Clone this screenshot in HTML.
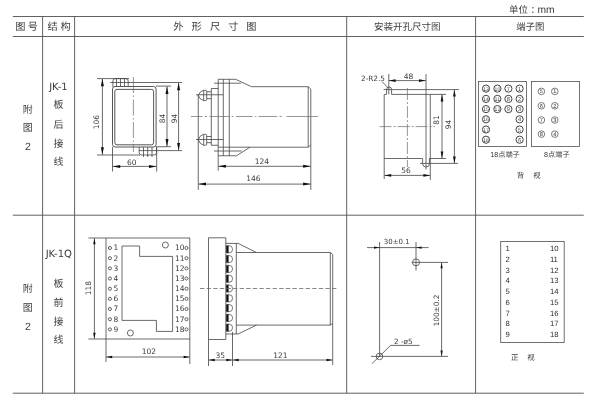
<!DOCTYPE html>
<html lang="zh-CN"><head><meta charset="utf-8"><title>JK-1 外形尺寸图</title>
<style>
html,body{margin:0;padding:0;background:#fff;}
body{width:600px;height:400px;overflow:hidden;}
svg{display:block;text-rendering:geometricPrecision;will-change:transform;}
.dj{font-family:"DejaVu Sans","Liberation Sans",sans-serif;}
.ls{font-family:"Liberation Sans","DejaVu Sans",sans-serif;}
.cj{font-family:"Liberation Sans","Noto Sans CJK SC",sans-serif;font-weight:400;}
.cjl{font-family:"Liberation Sans","Noto Sans CJK SC",sans-serif;font-weight:400;}
</style></head><body>
<svg width="600" height="400" viewBox="0 0 600 400">
<rect width="600" height="400" fill="#fff"/>
<line x1="12.8" y1="16.5" x2="583.8" y2="16.5" stroke="#505050" stroke-width="0.9" />
<line x1="12.8" y1="36.5" x2="583.8" y2="36.5" stroke="#505050" stroke-width="0.9" />
<line x1="12.8" y1="215.2" x2="583.8" y2="215.2" stroke="#505050" stroke-width="0.9" />
<line x1="12.8" y1="393.2" x2="583.8" y2="393.2" stroke="#505050" stroke-width="0.9" />
<line x1="42.6" y1="16.5" x2="42.6" y2="393.2" stroke="#505050" stroke-width="0.9" />
<line x1="74.6" y1="16.5" x2="74.6" y2="393.2" stroke="#505050" stroke-width="0.9" />
<line x1="346.7" y1="16.5" x2="346.7" y2="393.2" stroke="#505050" stroke-width="0.9" />
<line x1="475.6" y1="16.5" x2="475.6" y2="393.2" stroke="#505050" stroke-width="0.9" />
<text x="20.3" y="30.4" font-size="10.2" text-anchor="middle" class="cj" fill="#3c3c3c" >图</text>
<text x="32.8" y="30.4" font-size="10.2" text-anchor="middle" class="cj" fill="#3c3c3c" >号</text>
<text x="52.7" y="30.4" font-size="10.2" text-anchor="middle" class="cj" fill="#3c3c3c" >结</text>
<text x="65.7" y="30.4" font-size="10.2" text-anchor="middle" class="cj" fill="#3c3c3c" >构</text>
<text x="178.3" y="30.4" font-size="10.2" text-anchor="middle" class="cj" fill="#3c3c3c" >外</text>
<text x="196.7" y="30.4" font-size="10.2" text-anchor="middle" class="cj" fill="#3c3c3c" >形</text>
<text x="215" y="30.4" font-size="10.2" text-anchor="middle" class="cj" fill="#3c3c3c" >尺</text>
<text x="233.3" y="30.4" font-size="10.2" text-anchor="middle" class="cj" fill="#3c3c3c" >寸</text>
<text x="251.3" y="30.4" font-size="10.2" text-anchor="middle" class="cj" fill="#3c3c3c" >图</text>
<text x="407.2" y="30.4" font-size="9.5" text-anchor="middle" class="cj" fill="#3c3c3c" >安装开孔尺寸图</text>
<text x="530.2" y="30.4" font-size="9.4" text-anchor="middle" class="cj" fill="#3c3c3c" >端子图</text>
<text x="509" y="13.3" font-size="9.5" text-anchor="start" class="cj" fill="#3c3c3c" >单位<tspan dx="2.6">：</tspan><tspan dx="-2.6" font-size="10.3">mm</tspan></text>
<text x="27.8" y="112.5" font-size="10" text-anchor="middle" class="cj" fill="#3c3c3c" >附</text>
<text x="27.8" y="131.3" font-size="10" text-anchor="middle" class="cj" fill="#3c3c3c" >图</text>
<text x="27.8" y="150.3" font-size="10.5" text-anchor="middle" class="ls" fill="#3c3c3c" >2</text>
<text x="58.4" y="89.7" font-size="10" text-anchor="middle" class="dj" fill="#3c3c3c" >JK-1</text>
<text x="58.5" y="108.4" font-size="10" text-anchor="middle" class="cj" fill="#3c3c3c" >板</text>
<text x="58.5" y="127.5" font-size="10" text-anchor="middle" class="cj" fill="#3c3c3c" >后</text>
<text x="58.5" y="146.5" font-size="10" text-anchor="middle" class="cj" fill="#3c3c3c" >接</text>
<text x="58.5" y="165.3" font-size="10" text-anchor="middle" class="cj" fill="#3c3c3c" >线</text>
<text x="27.8" y="292.2" font-size="10" text-anchor="middle" class="cj" fill="#3c3c3c" >附</text>
<text x="27.8" y="311" font-size="10" text-anchor="middle" class="cj" fill="#3c3c3c" >图</text>
<text x="27.8" y="330.2" font-size="10.5" text-anchor="middle" class="ls" fill="#3c3c3c" >2</text>
<text x="58.8" y="256.8" font-size="10" text-anchor="middle" class="dj" fill="#3c3c3c" >JK-1Q</text>
<text x="58.5" y="286.6" font-size="10" text-anchor="middle" class="cj" fill="#3c3c3c" >板</text>
<text x="58.5" y="306.1" font-size="10" text-anchor="middle" class="cj" fill="#3c3c3c" >前</text>
<text x="58.5" y="324.7" font-size="10" text-anchor="middle" class="cj" fill="#3c3c3c" >接</text>
<text x="58.5" y="343.4" font-size="10" text-anchor="middle" class="cj" fill="#3c3c3c" >线</text>
<rect x="112.5" y="86.5" width="43.6" height="60.5" rx="2.6" fill="none" stroke="#444" stroke-width="0.9"/>
<rect x="114.8" y="89.4" width="38.8" height="55.4" rx="2.2" fill="none" stroke="#444" stroke-width="0.9"/>
<path d="M112.9,87 V81 Q112.9,78.6 115.3,78.6 H125.8 Q128.2,78.6 128.2,81 V87" stroke="#444" stroke-width="0.8" fill="none" />
<line x1="116.5" y1="78.6" x2="116.5" y2="87" stroke="#444" stroke-width="0.8" />
<line x1="120.5" y1="78.6" x2="120.5" y2="87" stroke="#444" stroke-width="0.8" />
<line x1="124.5" y1="78.6" x2="124.5" y2="87" stroke="#444" stroke-width="0.8" />
<path d="M139.2,147 V152.6 Q139.2,155 141.6,155 H154.1 Q156.5,155 156.5,152.6 V147" stroke="#444" stroke-width="0.8" fill="none" />
<line x1="143.5" y1="147" x2="143.5" y2="157" stroke="#444" stroke-width="0.8" />
<line x1="147.7" y1="147" x2="147.7" y2="157" stroke="#444" stroke-width="0.8" />
<line x1="152" y1="147" x2="152" y2="157" stroke="#444" stroke-width="0.8" />
<line x1="97" y1="78.6" x2="129" y2="78.6" stroke="#444" stroke-width="0.8" />
<line x1="110.2" y1="82.5" x2="182" y2="82.5" stroke="#444" stroke-width="0.8" />
<line x1="156" y1="86.1" x2="171" y2="86.1" stroke="#444" stroke-width="0.8" />
<line x1="156" y1="146.7" x2="171" y2="146.7" stroke="#444" stroke-width="0.8" />
<line x1="139" y1="150.6" x2="182" y2="150.6" stroke="#444" stroke-width="0.8" />
<line x1="97" y1="155" x2="140" y2="155" stroke="#444" stroke-width="0.8" />
<line x1="133.4" y1="77" x2="133.4" y2="152" stroke="#6a6a6a" stroke-width="0.7" stroke-dasharray="16 2.5 1.5 2.5"/>
<line x1="102.4" y1="78.8" x2="102.4" y2="154.8" stroke="#444" stroke-width="0.8" />
<polygon points="102.40,78.80 103.90,86.30 100.90,86.30" fill="#111"/>
<polygon points="102.40,154.80 100.90,147.30 103.90,147.30" fill="#111"/>
<line x1="167" y1="86.4" x2="167" y2="146.4" stroke="#444" stroke-width="0.8" />
<polygon points="167.00,86.40 168.50,93.90 165.50,93.90" fill="#111"/>
<polygon points="167.00,146.40 165.50,138.90 168.50,138.90" fill="#111"/>
<line x1="178.6" y1="82.7" x2="178.6" y2="150.4" stroke="#444" stroke-width="0.8" />
<polygon points="178.60,82.70 180.10,90.20 177.10,90.20" fill="#111"/>
<polygon points="178.60,150.40 177.10,142.90 180.10,142.90" fill="#111"/>
<text x="99.3" y="122" font-size="7.5" text-anchor="middle" class="dj" fill="#3c3c3c" transform="rotate(-90 99.3 122)" >106</text>
<text x="164.6" y="118.4" font-size="7.5" text-anchor="middle" class="dj" fill="#3c3c3c" transform="rotate(-90 164.6 118.4)" >84</text>
<text x="177" y="118.4" font-size="7.5" text-anchor="middle" class="dj" fill="#3c3c3c" transform="rotate(-90 177 118.4)" >94</text>
<line x1="112.5" y1="147" x2="112.5" y2="171.5" stroke="#444" stroke-width="0.8" />
<line x1="156.7" y1="147" x2="156.7" y2="171.5" stroke="#444" stroke-width="0.8" />
<line x1="112.7" y1="166.4" x2="156.5" y2="166.4" stroke="#444" stroke-width="0.8" />
<polygon points="112.70,166.40 120.20,164.90 120.20,167.90" fill="#111"/>
<polygon points="156.50,166.40 149.00,167.90 149.00,164.90" fill="#111"/>
<text x="131.8" y="164.6" font-size="7.5" text-anchor="middle" class="dj" fill="#3c3c3c" >60</text>
<path d="M218.2,155.75 V79.3 H235.7 L251.5,86.7 H308.2 L310.8,89 V190" stroke="#444" stroke-width="0.8" fill="none" />
<path d="M308.2,86.7 V147.2 M310.8,145 L308.2,147.2" stroke="#444" stroke-width="0.8" fill="none" />
<line x1="223.3" y1="79.3" x2="223.3" y2="155.75" stroke="#444" stroke-width="0.8" />
<line x1="229.3" y1="79.3" x2="229.3" y2="155.75" stroke="#444" stroke-width="0.8" />
<path d="M218.2,155.75 H236.5 L250,147.2" stroke="#444" stroke-width="0.8" fill="none" />
<line x1="218.2" y1="147.2" x2="308.2" y2="147.2" stroke="#444" stroke-width="0.8" />
<line x1="214" y1="83.2" x2="241" y2="83.2" stroke="#444" stroke-width="0.8" />
<line x1="214" y1="151" x2="241.7" y2="151" stroke="#444" stroke-width="0.8" />
<path d="M218.2,88.5 H211.3 V145.25 H218.2" stroke="#444" stroke-width="0.8" fill="none" />
<path d="M205.7,90.3 H203.4 Q199.4,91.6 198.3,95.4 Q199.4,99.2 203.4,100.5 H205.7 Q206.7,100.5 206.7,99.5 V91.3 Q206.7,90.3 205.7,90.3 Z" stroke="#444" stroke-width="0.8" fill="none" />
<line x1="203.7" y1="90.3" x2="203.7" y2="100.5" stroke="#444" stroke-width="0.8" />
<path d="M206.7,91.8 H211.3 M206.7,98.7 H211.3" stroke="#444" stroke-width="0.8" fill="none" />
<line x1="196" y1="94.75" x2="223.3" y2="94.75" stroke="#444" stroke-width="0.8" />
<path d="M205.7,134.3 H203.4 Q199.4,135.60000000000002 198.3,139.75 Q199.4,143.89999999999998 203.4,145.2 H205.7 Q206.7,145.2 206.7,144.2 V135.3 Q206.7,134.3 205.7,134.3 Z" stroke="#444" stroke-width="0.8" fill="none" />
<line x1="203.7" y1="134.3" x2="203.7" y2="145.2" stroke="#444" stroke-width="0.8" />
<path d="M206.7,136.5 H211.3 M206.7,142.7 H211.3" stroke="#444" stroke-width="0.8" fill="none" />
<line x1="196" y1="139.5" x2="223.3" y2="139.5" stroke="#444" stroke-width="0.8" />
<line x1="198.25" y1="95" x2="198.25" y2="189.8" stroke="#444" stroke-width="0.8" />
<line x1="218.2" y1="155.75" x2="218.2" y2="170.7" stroke="#444" stroke-width="0.8" />
<line x1="190.8" y1="116.5" x2="202.5" y2="116.5" stroke="#6a6a6a" stroke-width="0.7" />
<line x1="204.8" y1="116.5" x2="207" y2="116.5" stroke="#6a6a6a" stroke-width="0.7" />
<line x1="209.5" y1="116.5" x2="229.3" y2="116.5" stroke="#6a6a6a" stroke-width="0.7" />
<line x1="231.7" y1="116.5" x2="233.5" y2="116.5" stroke="#6a6a6a" stroke-width="0.7" />
<line x1="235.9" y1="116.5" x2="252.7" y2="116.5" stroke="#6a6a6a" stroke-width="0.7" />
<line x1="254.9" y1="116.5" x2="256.4" y2="116.5" stroke="#6a6a6a" stroke-width="0.7" />
<line x1="258.5" y1="116.5" x2="277.2" y2="116.5" stroke="#6a6a6a" stroke-width="0.7" />
<line x1="279.5" y1="116.5" x2="281.8" y2="116.5" stroke="#6a6a6a" stroke-width="0.7" />
<line x1="286.5" y1="116.5" x2="318" y2="116.5" stroke="#6a6a6a" stroke-width="0.7" />
<line x1="218.4" y1="166.3" x2="310.6" y2="166.3" stroke="#444" stroke-width="0.8" />
<polygon points="218.40,166.30 225.90,164.80 225.90,167.80" fill="#111"/>
<polygon points="310.60,166.30 303.10,167.80 303.10,164.80" fill="#111"/>
<text x="262" y="163.7" font-size="7.5" text-anchor="middle" class="dj" fill="#3c3c3c" >124</text>
<line x1="198.5" y1="184.1" x2="310.6" y2="184.1" stroke="#444" stroke-width="0.8" />
<polygon points="198.50,184.10 206.00,182.60 206.00,185.60" fill="#111"/>
<polygon points="310.60,184.10 303.10,185.60 303.10,182.60" fill="#111"/>
<text x="253.5" y="181.3" font-size="7.5" text-anchor="middle" class="dj" fill="#3c3c3c" >146</text>
<path d="M384.2,179 V94.4 H386.6 V89.5 A2.5,2.5 0 0 1 391.6,89.5 V94.4 H446" stroke="#444" stroke-width="0.8" fill="none" />
<line x1="430.3" y1="94.4" x2="430.3" y2="180" stroke="#444" stroke-width="0.8" />
<path d="M384.2,158.5 H422.6 V163.6 A3.4,3.4 0 0 0 429.4,163.6 V158.5 H446" stroke="#444" stroke-width="0.8" fill="none" />
<line x1="383.6" y1="89.6" x2="459" y2="89.6" stroke="#444" stroke-width="0.8" />
<line x1="420" y1="163.4" x2="458" y2="163.4" stroke="#444" stroke-width="0.8" />
<line x1="388.8" y1="74" x2="388.8" y2="94.4" stroke="#444" stroke-width="0.8" />
<line x1="426" y1="74" x2="426" y2="169.5" stroke="#444" stroke-width="0.8" />
<line x1="407.4" y1="88" x2="407.4" y2="167" stroke="#6a6a6a" stroke-width="0.7" stroke-dasharray="12 2 2 2"/>
<line x1="379.6" y1="126.6" x2="435" y2="126.6" stroke="#6a6a6a" stroke-width="0.7" stroke-dasharray="12 2 2 2"/>
<line x1="388.8" y1="80.6" x2="425.8" y2="80.6" stroke="#444" stroke-width="0.8" />
<polygon points="388.80,80.60 395.60,79.24 395.60,81.96" fill="#111"/>
<polygon points="425.80,80.60 419.00,81.96 419.00,79.24" fill="#111"/>
<text x="408.6" y="79" font-size="7.5" text-anchor="middle" class="dj" fill="#3c3c3c" >48</text>
<line x1="442" y1="94.6" x2="442" y2="158.3" stroke="#444" stroke-width="0.8" />
<polygon points="442.00,94.60 443.36,101.40 440.64,101.40" fill="#111"/>
<polygon points="442.00,158.30 440.64,151.50 443.36,151.50" fill="#111"/>
<line x1="454.4" y1="89.8" x2="454.4" y2="163.2" stroke="#444" stroke-width="0.8" />
<polygon points="454.40,89.80 455.76,96.60 453.04,96.60" fill="#111"/>
<polygon points="454.40,163.20 453.04,156.40 455.76,156.40" fill="#111"/>
<text x="438.9" y="120" font-size="7.5" text-anchor="middle" class="dj" fill="#3c3c3c" transform="rotate(-90 438.9 120)" >81</text>
<text x="451.3" y="124.4" font-size="7.5" text-anchor="middle" class="dj" fill="#3c3c3c" transform="rotate(-90 451.3 124.4)" >94</text>
<line x1="384.4" y1="175.4" x2="430.2" y2="175.4" stroke="#444" stroke-width="0.8" />
<polygon points="384.40,175.40 391.20,174.04 391.20,176.76" fill="#111"/>
<polygon points="430.20,175.40 423.40,176.76 423.40,174.04" fill="#111"/>
<text x="406" y="173" font-size="7.5" text-anchor="middle" class="dj" fill="#3c3c3c" >56</text>
<text x="373" y="81.2" font-size="7.3" text-anchor="middle" class="dj" fill="#3c3c3c" >2-R2.5</text>
<line x1="382" y1="81.5" x2="388.3" y2="88.2" stroke="#444" stroke-width="0.8" />
<rect x="478.5" y="81.5" width="48" height="64.9" fill="none" stroke="#505050" stroke-width="0.8"/>
<rect x="531.5" y="81.5" width="48" height="64.9" fill="none" stroke="#505050" stroke-width="0.8"/>
<circle cx="486" cy="88.6" r="3.6" stroke="#444" stroke-width="1.0" fill="none"/>
<text x="486" y="90.6" font-size="5.2" text-anchor="middle" class="ls" fill="#3c3c3c" textLength="5.6" lengthAdjust="spacingAndGlyphs">13</text>
<circle cx="486" cy="98.9" r="3.6" stroke="#444" stroke-width="1.0" fill="none"/>
<text x="486" y="100.9" font-size="5.2" text-anchor="middle" class="ls" fill="#3c3c3c" textLength="5.6" lengthAdjust="spacingAndGlyphs">14</text>
<circle cx="486" cy="109.1" r="3.6" stroke="#444" stroke-width="1.0" fill="none"/>
<text x="486" y="111.1" font-size="5.2" text-anchor="middle" class="ls" fill="#3c3c3c" textLength="5.6" lengthAdjust="spacingAndGlyphs">15</text>
<circle cx="486" cy="119.3" r="3.6" stroke="#444" stroke-width="1.0" fill="none"/>
<text x="486" y="121.3" font-size="5.2" text-anchor="middle" class="ls" fill="#3c3c3c" textLength="5.6" lengthAdjust="spacingAndGlyphs">16</text>
<circle cx="486" cy="129.5" r="3.6" stroke="#444" stroke-width="1.0" fill="none"/>
<text x="486" y="131.5" font-size="5.2" text-anchor="middle" class="ls" fill="#3c3c3c" textLength="5.6" lengthAdjust="spacingAndGlyphs">17</text>
<circle cx="486" cy="139.7" r="3.6" stroke="#444" stroke-width="1.0" fill="none"/>
<text x="486" y="141.7" font-size="5.2" text-anchor="middle" class="ls" fill="#3c3c3c" textLength="5.6" lengthAdjust="spacingAndGlyphs">18</text>
<circle cx="497.4" cy="88.6" r="3.6" stroke="#444" stroke-width="1.0" fill="none"/>
<text x="497.4" y="90.6" font-size="5.2" text-anchor="middle" class="ls" fill="#3c3c3c" textLength="5.6" lengthAdjust="spacingAndGlyphs">10</text>
<circle cx="497.4" cy="98.9" r="3.6" stroke="#444" stroke-width="1.0" fill="none"/>
<text x="497.4" y="100.9" font-size="5.2" text-anchor="middle" class="ls" fill="#3c3c3c" textLength="5.6" lengthAdjust="spacingAndGlyphs">11</text>
<circle cx="497.4" cy="109.1" r="3.6" stroke="#444" stroke-width="1.0" fill="none"/>
<text x="497.4" y="111.1" font-size="5.2" text-anchor="middle" class="ls" fill="#3c3c3c" textLength="5.6" lengthAdjust="spacingAndGlyphs">12</text>
<circle cx="508.4" cy="88.6" r="3.6" stroke="#444" stroke-width="1.0" fill="none"/>
<text x="508.4" y="90.6" font-size="5.6" text-anchor="middle" class="ls" fill="#3c3c3c" >7</text>
<circle cx="508.4" cy="98.9" r="3.6" stroke="#444" stroke-width="1.0" fill="none"/>
<text x="508.4" y="100.9" font-size="5.6" text-anchor="middle" class="ls" fill="#3c3c3c" >8</text>
<circle cx="508.4" cy="109.1" r="3.6" stroke="#444" stroke-width="1.0" fill="none"/>
<text x="508.4" y="111.1" font-size="5.6" text-anchor="middle" class="ls" fill="#3c3c3c" >9</text>
<circle cx="519.6" cy="88.6" r="3.6" stroke="#444" stroke-width="1.0" fill="none"/>
<text x="519.6" y="90.6" font-size="5.6" text-anchor="middle" class="ls" fill="#3c3c3c" >1</text>
<circle cx="519.6" cy="98.9" r="3.6" stroke="#444" stroke-width="1.0" fill="none"/>
<text x="519.6" y="100.9" font-size="5.6" text-anchor="middle" class="ls" fill="#3c3c3c" >2</text>
<circle cx="519.6" cy="109.1" r="3.6" stroke="#444" stroke-width="1.0" fill="none"/>
<text x="519.6" y="111.1" font-size="5.6" text-anchor="middle" class="ls" fill="#3c3c3c" >3</text>
<circle cx="519.6" cy="119.3" r="3.6" stroke="#444" stroke-width="1.0" fill="none"/>
<text x="519.6" y="121.3" font-size="5.6" text-anchor="middle" class="ls" fill="#3c3c3c" >4</text>
<circle cx="519.6" cy="129.5" r="3.6" stroke="#444" stroke-width="1.0" fill="none"/>
<text x="519.6" y="131.5" font-size="5.6" text-anchor="middle" class="ls" fill="#3c3c3c" >5</text>
<circle cx="519.6" cy="139.7" r="3.6" stroke="#444" stroke-width="1.0" fill="none"/>
<text x="519.6" y="141.7" font-size="5.6" text-anchor="middle" class="ls" fill="#3c3c3c" >6</text>
<circle cx="541.4" cy="91.4" r="3.3" stroke="#444" stroke-width="0.7" fill="none"/>
<text x="541.4" y="93.4" font-size="5.6" text-anchor="middle" class="ls" fill="#2a2a2a" >5</text>
<circle cx="541.4" cy="105.8" r="3.3" stroke="#444" stroke-width="0.7" fill="none"/>
<text x="541.4" y="107.8" font-size="5.6" text-anchor="middle" class="ls" fill="#2a2a2a" >6</text>
<circle cx="541.4" cy="120" r="3.3" stroke="#444" stroke-width="0.7" fill="none"/>
<text x="541.4" y="122" font-size="5.6" text-anchor="middle" class="ls" fill="#2a2a2a" >7</text>
<circle cx="541.4" cy="134.1" r="3.3" stroke="#444" stroke-width="0.7" fill="none"/>
<text x="541.4" y="136.1" font-size="5.6" text-anchor="middle" class="ls" fill="#2a2a2a" >8</text>
<circle cx="554.8" cy="91.4" r="3.3" stroke="#444" stroke-width="0.7" fill="none"/>
<text x="554.8" y="93.4" font-size="5.6" text-anchor="middle" class="ls" fill="#2a2a2a" >1</text>
<circle cx="554.8" cy="105.8" r="3.3" stroke="#444" stroke-width="0.7" fill="none"/>
<text x="554.8" y="107.8" font-size="5.6" text-anchor="middle" class="ls" fill="#2a2a2a" >2</text>
<circle cx="554.8" cy="120" r="3.3" stroke="#444" stroke-width="0.7" fill="none"/>
<text x="554.8" y="122" font-size="5.6" text-anchor="middle" class="ls" fill="#2a2a2a" >3</text>
<circle cx="554.8" cy="134.1" r="3.3" stroke="#444" stroke-width="0.7" fill="none"/>
<text x="554.8" y="136.1" font-size="5.6" text-anchor="middle" class="ls" fill="#2a2a2a" >4</text>
<text x="505" y="156.8" font-size="7.2" text-anchor="middle" class="cjl" fill="#3c3c3c" >18点端子</text>
<text x="556.8" y="156.5" font-size="7.2" text-anchor="middle" class="cjl" fill="#3c3c3c" >8点端子</text>
<text x="520.4" y="177.6" font-size="7.4" text-anchor="middle" class="cj" fill="#3c3c3c" >背</text>
<text x="537" y="177.6" font-size="7.4" text-anchor="middle" class="cj" fill="#3c3c3c" >视</text>
<line x1="88.4" y1="238" x2="190" y2="238" stroke="#444" stroke-width="0.8" />
<line x1="88.4" y1="339" x2="190" y2="339" stroke="#444" stroke-width="0.8" />
<line x1="106" y1="238" x2="106" y2="362" stroke="#444" stroke-width="0.8" />
<line x1="189.8" y1="238" x2="189.8" y2="364" stroke="#444" stroke-width="0.8" />
<line x1="94.4" y1="238.2" x2="94.4" y2="338.8" stroke="#444" stroke-width="0.8" />
<polygon points="94.40,238.20 95.60,244.20 93.20,244.20" fill="#111"/>
<polygon points="94.40,338.80 93.20,332.80 95.60,332.80" fill="#111"/>
<text x="90.5" y="288" font-size="7.5" text-anchor="middle" class="dj" fill="#3c3c3c" transform="rotate(-90 90.5 288)" >118</text>
<line x1="106.2" y1="357" x2="189.6" y2="357" stroke="#444" stroke-width="0.8" />
<polygon points="106.20,357.00 112.20,355.80 112.20,358.20" fill="#111"/>
<polygon points="189.60,357.00 183.60,358.20 183.60,355.80" fill="#111"/>
<text x="149" y="354.2" font-size="7.5" text-anchor="middle" class="dj" fill="#3c3c3c" >102</text>
<circle cx="109.9" cy="248" r="1.55" stroke="#444" stroke-width="0.85" fill="none"/>
<text x="115.9" y="250.4" font-size="7.5" text-anchor="middle" class="dj" fill="#3c3c3c" >1</text>
<text x="179.8" y="250.4" font-size="7.5" text-anchor="middle" class="dj" fill="#3c3c3c" >10</text>
<circle cx="186.5" cy="248" r="1.55" stroke="#444" stroke-width="0.85" fill="none"/>
<circle cx="109.9" cy="258.2" r="1.55" stroke="#444" stroke-width="0.85" fill="none"/>
<text x="115.9" y="260.59999999999997" font-size="7.5" text-anchor="middle" class="dj" fill="#3c3c3c" >2</text>
<text x="179.8" y="260.59999999999997" font-size="7.5" text-anchor="middle" class="dj" fill="#3c3c3c" >11</text>
<circle cx="186.5" cy="258.2" r="1.55" stroke="#444" stroke-width="0.85" fill="none"/>
<circle cx="109.9" cy="268.4" r="1.55" stroke="#444" stroke-width="0.85" fill="none"/>
<text x="115.9" y="270.79999999999995" font-size="7.5" text-anchor="middle" class="dj" fill="#3c3c3c" >3</text>
<text x="179.8" y="270.79999999999995" font-size="7.5" text-anchor="middle" class="dj" fill="#3c3c3c" >12</text>
<circle cx="186.5" cy="268.4" r="1.55" stroke="#444" stroke-width="0.85" fill="none"/>
<circle cx="109.9" cy="278.5" r="1.55" stroke="#444" stroke-width="0.85" fill="none"/>
<text x="115.9" y="280.9" font-size="7.5" text-anchor="middle" class="dj" fill="#3c3c3c" >4</text>
<text x="179.8" y="280.9" font-size="7.5" text-anchor="middle" class="dj" fill="#3c3c3c" >13</text>
<circle cx="186.5" cy="278.5" r="1.55" stroke="#444" stroke-width="0.85" fill="none"/>
<circle cx="109.9" cy="288.7" r="1.55" stroke="#444" stroke-width="0.85" fill="none"/>
<text x="115.9" y="291.09999999999997" font-size="7.5" text-anchor="middle" class="dj" fill="#3c3c3c" >5</text>
<text x="179.8" y="291.09999999999997" font-size="7.5" text-anchor="middle" class="dj" fill="#3c3c3c" >14</text>
<circle cx="186.5" cy="288.7" r="1.55" stroke="#444" stroke-width="0.85" fill="none"/>
<circle cx="109.9" cy="298.8" r="1.55" stroke="#444" stroke-width="0.85" fill="none"/>
<text x="115.9" y="301.2" font-size="7.5" text-anchor="middle" class="dj" fill="#3c3c3c" >6</text>
<text x="179.8" y="301.2" font-size="7.5" text-anchor="middle" class="dj" fill="#3c3c3c" >15</text>
<circle cx="186.5" cy="298.8" r="1.55" stroke="#444" stroke-width="0.85" fill="none"/>
<circle cx="109.9" cy="309" r="1.55" stroke="#444" stroke-width="0.85" fill="none"/>
<text x="115.9" y="311.4" font-size="7.5" text-anchor="middle" class="dj" fill="#3c3c3c" >7</text>
<text x="179.8" y="311.4" font-size="7.5" text-anchor="middle" class="dj" fill="#3c3c3c" >16</text>
<circle cx="186.5" cy="309" r="1.55" stroke="#444" stroke-width="0.85" fill="none"/>
<circle cx="109.9" cy="319.2" r="1.55" stroke="#444" stroke-width="0.85" fill="none"/>
<text x="115.9" y="321.59999999999997" font-size="7.5" text-anchor="middle" class="dj" fill="#3c3c3c" >8</text>
<text x="179.8" y="321.59999999999997" font-size="7.5" text-anchor="middle" class="dj" fill="#3c3c3c" >17</text>
<circle cx="186.5" cy="319.2" r="1.55" stroke="#444" stroke-width="0.85" fill="none"/>
<circle cx="109.9" cy="329.4" r="1.55" stroke="#444" stroke-width="0.85" fill="none"/>
<text x="115.9" y="331.79999999999995" font-size="7.5" text-anchor="middle" class="dj" fill="#3c3c3c" >9</text>
<text x="179.8" y="331.79999999999995" font-size="7.5" text-anchor="middle" class="dj" fill="#3c3c3c" >18</text>
<circle cx="186.5" cy="329.4" r="1.55" stroke="#444" stroke-width="0.85" fill="none"/>
<circle cx="165.4" cy="245" r="3" stroke="#444" stroke-width="0.8" fill="none"/>
<circle cx="130.4" cy="333" r="3" stroke="#444" stroke-width="0.8" fill="none"/>
<path d="M122,246 H139.6 V256.4 H172.6 V331.4 H156.4 V320.4 H122 Z" stroke="#444" stroke-width="0.8" fill="none" />
<path d="M208.5,366 V237.8 H225.8 V339.5 H208.5" stroke="#444" stroke-width="0.8" fill="none" />
<path d="M225.8,243.4 H238.2 L256.4,252.5 H330.3 L332.7,254.3 V365" stroke="#444" stroke-width="0.8" fill="none" />
<path d="M330.3,252.5 V325.1 M332.7,323.4 L330.3,325.1" stroke="#444" stroke-width="0.8" fill="none" />
<line x1="236.3" y1="243.4" x2="236.3" y2="334" stroke="#444" stroke-width="0.8" />
<line x1="236.3" y1="252.5" x2="256.4" y2="252.5" stroke="#444" stroke-width="0.8" />
<path d="M225.8,334 H238.2 L256.4,325.1" stroke="#444" stroke-width="0.8" fill="none" />
<line x1="236.3" y1="325.1" x2="330.3" y2="325.1" stroke="#444" stroke-width="0.8" />
<line x1="232.5" y1="332" x2="232.5" y2="366" stroke="#444" stroke-width="0.8" />
<path d="M226.6,245.70000000000002 H229 A3.6,3.6 0 0 1 229,252.9 H226.6 Z" stroke="#444" stroke-width="0.7" fill="none" />
<rect x="226.4" y="245.70000000000002" width="2.2" height="7.2" fill="#111"/>
<path d="M226.6,255.50000000000003 H229 A3.6,3.6 0 0 1 229,262.70000000000005 H226.6 Z" stroke="#444" stroke-width="0.7" fill="none" />
<rect x="226.4" y="255.50000000000003" width="2.2" height="7.2" fill="#111"/>
<path d="M226.6,265.3 H229 A3.6,3.6 0 0 1 229,272.50000000000006 H226.6 Z" stroke="#444" stroke-width="0.7" fill="none" />
<rect x="226.4" y="265.3" width="2.2" height="7.2" fill="#111"/>
<path d="M226.6,275.09999999999997 H229 A3.6,3.6 0 0 1 229,282.3 H226.6 Z" stroke="#444" stroke-width="0.7" fill="none" />
<rect x="226.4" y="275.09999999999997" width="2.2" height="7.2" fill="#111"/>
<path d="M226.6,284.9 H229 A3.6,3.6 0 0 1 229,292.1 H226.6 Z" stroke="#444" stroke-width="0.7" fill="none" />
<rect x="226.4" y="284.9" width="2.2" height="7.2" fill="#111"/>
<path d="M226.6,294.7 H229 A3.6,3.6 0 0 1 229,301.90000000000003 H226.6 Z" stroke="#444" stroke-width="0.7" fill="none" />
<rect x="226.4" y="294.7" width="2.2" height="7.2" fill="#111"/>
<path d="M226.6,304.5 H229 A3.6,3.6 0 0 1 229,311.70000000000005 H226.6 Z" stroke="#444" stroke-width="0.7" fill="none" />
<rect x="226.4" y="304.5" width="2.2" height="7.2" fill="#111"/>
<path d="M226.6,314.3 H229 A3.6,3.6 0 0 1 229,321.50000000000006 H226.6 Z" stroke="#444" stroke-width="0.7" fill="none" />
<rect x="226.4" y="314.3" width="2.2" height="7.2" fill="#111"/>
<path d="M226.6,324.1 H229 A3.6,3.6 0 0 1 229,331.30000000000007 H226.6 Z" stroke="#444" stroke-width="0.7" fill="none" />
<rect x="226.4" y="324.1" width="2.2" height="7.2" fill="#111"/>
<line x1="200" y1="288.5" x2="337" y2="288.5" stroke="#6a6a6a" stroke-width="0.8" stroke-dasharray="4.4 2.2"/>
<line x1="208.7" y1="360" x2="232.3" y2="360" stroke="#444" stroke-width="0.8" />
<polygon points="208.70,360.00 214.70,358.80 214.70,361.20" fill="#111"/>
<polygon points="232.30,360.00 226.30,361.20 226.30,358.80" fill="#111"/>
<line x1="232.7" y1="360" x2="332.5" y2="360" stroke="#444" stroke-width="0.8" />
<polygon points="232.70,360.00 238.70,358.80 238.70,361.20" fill="#111"/>
<polygon points="332.50,360.00 326.50,361.20 326.50,358.80" fill="#111"/>
<text x="220.3" y="357.7" font-size="7.5" text-anchor="middle" class="dj" fill="#3c3c3c" >35</text>
<text x="280.3" y="357.7" font-size="7.5" text-anchor="middle" class="dj" fill="#3c3c3c" >121</text>
<line x1="379.6" y1="242" x2="379.6" y2="356.4" stroke="#444" stroke-width="0.8" />
<line x1="416" y1="242" x2="416" y2="270.6" stroke="#444" stroke-width="0.8" />
<line x1="367" y1="247.6" x2="428.6" y2="247.6" stroke="#444" stroke-width="0.8" />
<polygon points="379.60,247.60 374.00,248.72 374.00,246.48" fill="#111"/>
<polygon points="416.00,247.60 421.60,246.48 421.60,248.72" fill="#111"/>
<text x="396.8" y="243.6" font-size="7.0" text-anchor="middle" class="dj" fill="#3c3c3c" >30±0.1</text>
<circle cx="416" cy="262.4" r="3.5" stroke="#444" stroke-width="0.8" fill="none"/>
<line x1="411.6" y1="262.4" x2="448" y2="262.4" stroke="#444" stroke-width="0.8" />
<circle cx="379.5" cy="356.4" r="3.3" stroke="#444" stroke-width="0.8" fill="none"/>
<line x1="371" y1="356.4" x2="448" y2="356.4" stroke="#444" stroke-width="0.8" />
<line x1="441.6" y1="262.6" x2="441.6" y2="356.2" stroke="#444" stroke-width="0.8" />
<polygon points="441.60,262.60 442.72,268.20 440.48,268.20" fill="#111"/>
<polygon points="441.60,356.20 440.48,350.60 442.72,350.60" fill="#111"/>
<text x="438.5" y="310.5" font-size="7.3" text-anchor="middle" class="dj" fill="#3c3c3c" transform="rotate(-90 438.5 310.5)" >100±0.2</text>
<path d="M372,363.6 L390.6,345.4 H419.6" stroke="#444" stroke-width="0.8" fill="none" />
<text x="403.3" y="343.6" font-size="7.3" text-anchor="middle" class="dj" fill="#3c3c3c" >2 -ø5</text>
<rect x="500.7" y="241.5" width="63.5" height="101" fill="none" stroke="#606060" stroke-width="0.9"/>
<text x="505.5" y="251.0" font-size="7.7" text-anchor="start" class="ls" fill="#2a2a2a" >1</text>
<text x="549.9" y="251.0" font-size="7.7" text-anchor="start" class="ls" fill="#2a2a2a" >10</text>
<text x="505.5" y="261.75" font-size="7.7" text-anchor="start" class="ls" fill="#2a2a2a" >2</text>
<text x="549.9" y="261.75" font-size="7.7" text-anchor="start" class="ls" fill="#2a2a2a" >11</text>
<text x="505.5" y="272.5" font-size="7.7" text-anchor="start" class="ls" fill="#2a2a2a" >3</text>
<text x="549.9" y="272.5" font-size="7.7" text-anchor="start" class="ls" fill="#2a2a2a" >12</text>
<text x="505.5" y="283.25" font-size="7.7" text-anchor="start" class="ls" fill="#2a2a2a" >4</text>
<text x="549.9" y="283.25" font-size="7.7" text-anchor="start" class="ls" fill="#2a2a2a" >13</text>
<text x="505.5" y="294.0" font-size="7.7" text-anchor="start" class="ls" fill="#2a2a2a" >5</text>
<text x="549.9" y="294.0" font-size="7.7" text-anchor="start" class="ls" fill="#2a2a2a" >14</text>
<text x="505.5" y="304.75" font-size="7.7" text-anchor="start" class="ls" fill="#2a2a2a" >6</text>
<text x="549.9" y="304.75" font-size="7.7" text-anchor="start" class="ls" fill="#2a2a2a" >15</text>
<text x="505.5" y="315.5" font-size="7.7" text-anchor="start" class="ls" fill="#2a2a2a" >7</text>
<text x="549.9" y="315.5" font-size="7.7" text-anchor="start" class="ls" fill="#2a2a2a" >16</text>
<text x="505.5" y="326.25" font-size="7.7" text-anchor="start" class="ls" fill="#2a2a2a" >8</text>
<text x="549.9" y="326.25" font-size="7.7" text-anchor="start" class="ls" fill="#2a2a2a" >17</text>
<text x="505.5" y="337.0" font-size="7.7" text-anchor="start" class="ls" fill="#2a2a2a" >9</text>
<text x="549.9" y="337.0" font-size="7.7" text-anchor="start" class="ls" fill="#2a2a2a" >18</text>
<text x="514.6" y="360.2" font-size="7.4" text-anchor="middle" class="cj" fill="#3c3c3c" >正</text>
<text x="531" y="360.2" font-size="7.4" text-anchor="middle" class="cj" fill="#3c3c3c" >视</text>
</svg>
</body></html>
